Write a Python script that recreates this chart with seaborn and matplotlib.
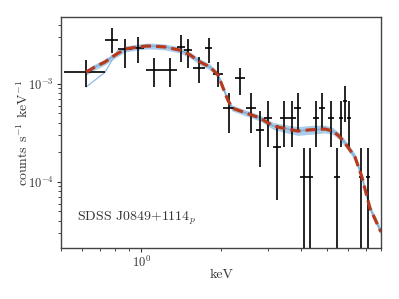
import numpy as np
import pandas as pd
import matplotlib
matplotlib.use("Agg")
import matplotlib.pyplot as plt
import seaborn as sns

energia = [0.621, 0.776, 0.871, 0.974, 1.12, 1.285, 1.414, 1.502, 1.652, 1.80,
           1.95, 2.14, 2.36, 2.59, 2.80, 3.0, 3.245, 3.45, 3.70, 3.89,
           4.10, 4.32, 4.55, 4.79, 5.18, 5.46, 5.65, 5.85, 6.05, 6.71, 7.13]
energia_err = [0.11, 0.044, 0.053, 0.055, 0.077, 0.083, 0.05, 0.05, 0.09, 0.055,
               0.085, 0.10, 0.11, 0.11, 0.10, 0.11, 0.11, 0.11, 0.12, 0.12,
               0.12, 0.12, 0.13, 0.13, 0.13, 0.13, 0.10, 0.10, 0.10, 0.12, 0.12]
cuentas = [1.32e-3, 2.81e-3, 2.28e-3, 2.33e-3, 1.39e-3, 1.39e-3, 2.39e-3, 2.22e-3, 1.46e-3, 2.33e-3,
           1.26e-3, 5.69e-4, 1.15e-3, 5.69e-4, 3.40e-4, 4.50e-4, 2.28e-4, 4.50e-4, 4.50e-4, 5.69e-4,
           1.12e-4, 1.12e-4, 4.50e-4, 5.69e-4, 4.50e-4, 1.12e-4, 4.50e-4, 6.71e-4, 4.50e-4, 1.12e-4, 1.12e-4]
cuentas_lo = [9.3e-4, 2.07e-3, 1.46e-3, 1.64e-3, 9.3e-4, 9.3e-4, 1.68e-3, 1.46e-3, 1.02e-3, 1.64e-3,
              9.3e-4, 3.16e-4, 7.7e-4, 3.16e-4, 1.42e-4, 2.28e-4, 6.5e-5, 2.28e-4, 2.28e-4, 3.40e-4,
              1e-6, 1e-6, 2.28e-4, 3.40e-4, 2.28e-4, 1e-6, 2.28e-4, 4.09e-4, 2.28e-4, 1e-6, 1e-6]
cuentas_hi = [1.76e-3, 3.73e-3, 2.88e-3, 3.02e-3, 1.84e-3, 1.84e-3, 3.16e-3, 2.88e-3, 1.89e-3, 2.94e-3,
              1.68e-3, 8.1e-4, 1.46e-3, 8.1e-4, 5.3e-4, 6.71e-4, 3.82e-4, 6.71e-4, 6.71e-4, 8.1e-4,
              2.22e-4, 2.22e-4, 6.71e-4, 8.1e-4, 6.71e-4, 2.22e-4, 6.71e-4, 9.5e-4, 6.71e-4, 2.22e-4, 2.22e-4]

# Modelo (línea roja) y anchura de la banda azul (dex)
modelo_e = [0.621, 0.67, 0.732, 0.778, 0.871, 0.974, 1.05, 1.10, 1.23, 1.40, 1.53, 1.667, 1.817, 1.947,
            2.03, 2.12, 2.20, 2.42, 2.80, 3.14, 3.54, 3.89, 4.32, 4.92,
            5.27, 5.55, 5.85, 6.38, 6.78, 7.26, 7.99]
modelo_f = [1.32e-3, 1.49e-3, 1.68e-3, 1.89e-3, 2.28e-3, 2.39e-3, 2.44e-3, 2.44e-3, 2.39e-3, 2.22e-3, 1.98e-3, 1.68e-3, 1.49e-3, 1.24e-3,
            9.3e-4, 6.87e-4, 5.69e-4, 5.18e-4, 4.50e-4, 3.73e-4, 3.47e-4, 3.31e-4, 3.40e-4, 3.47e-4,
            3.31e-4, 2.95e-4, 2.5e-4, 1.80e-4, 1.12e-4, 5.43e-5, 3.09e-5]
banda_dex = [0.03, 0.03, 0.03, 0.03, 0.03, 0.03, 0.03, 0.03, 0.03, 0.03, 0.03, 0.03, 0.03, 0.03,
             0.03, 0.03, 0.03, 0.03, 0.03, 0.035, 0.04, 0.045, 0.045, 0.04,
             0.035, 0.035, 0.035, 0.035, 0.035, 0.035, 0.035]
# realización atípica al inicio
atipico_e = [0.621, 0.732, 0.819]
atipico_f = [9.3e-4, 1.32e-3, 2.22e-3]

sns.set_style("ticks")
plt.rcParams['font.family'] = ['cmr10', 'DejaVu Serif']
plt.rcParams['mathtext.fontset'] = 'cm'
plt.rcParams['axes.formatter.use_mathtext'] = True
plt.rcParams['axes.unicode_minus'] = False

fig = plt.figure(figsize=(3.99, 2.99), dpi=100)
ax = fig.add_axes([0.153, 0.171, 0.802, 0.772])

df_mod = pd.DataFrame({'keV': modelo_e, 'flujo': modelo_f})
sigma = 10 ** np.array(banda_dex)
ax.fill_between(modelo_e, np.array(modelo_f) / sigma, np.array(modelo_f) * sigma,
                color='#9cc3e5', alpha=0.85, lw=0, zorder=1)
ax.plot(modelo_e, modelo_f, color='#6fa5d6', lw=1.0, alpha=0.8, zorder=1)
ax.plot(atipico_e, atipico_f, color='#8fbbe3', lw=0.9, zorder=1)

ax.errorbar(energia, cuentas, xerr=energia_err,
            yerr=[np.array(cuentas) - np.array(cuentas_lo), np.array(cuentas_hi) - np.array(cuentas)],
            fmt='none', ecolor='black', elinewidth=1.2, capsize=0, zorder=2)

sns.lineplot(data=df_mod, x='keV', y='flujo', ax=ax, color='#b83a1e', lw=2.3,
             linestyle=(0, (3.2, 1.6)), zorder=3, sort=False)

ax.set_xscale('log')
ax.set_yscale('log')
ax.set_xlim(0.5, 8.0)
ax.set_ylim(2.12e-5, 4.83e-3)

ax.set_xlabel('keV', fontsize=10, color='#333333', labelpad=-1)
ax.set_ylabel(r'counts s$^{-1}$ keV$^{-1}$', fontsize=10, color='#333333', labelpad=-2)
ax.text(0.05, 0.12, r'SDSS J0849+1114$_p$', transform=ax.transAxes, fontsize=10, color='#333333')

ax.tick_params(which='major', direction='out', length=3, width=0.8, labelsize=9, colors='#333333', pad=2)
ax.tick_params(which='minor', direction='out', length=2, width=0.6)
ax.xaxis.set_minor_formatter(matplotlib.ticker.NullFormatter())
for lado in ax.spines.values():
    lado.set_color('#444444')
    lado.set_linewidth(1.0)

plt.savefig('out.png', dpi=100, facecolor='white')
plt.close()
